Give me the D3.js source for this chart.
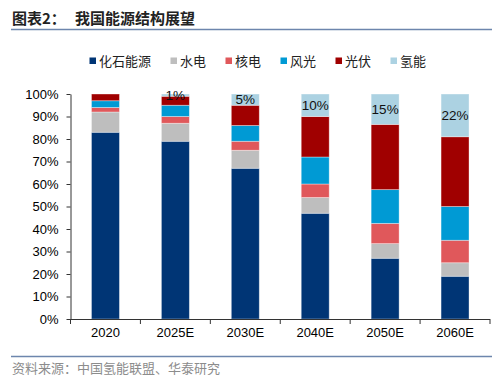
<!DOCTYPE html>
<html>
<head>
<meta charset="utf-8">
<script src="https://cdn.jsdelivr.net/npm/d3@7"></script>
<style>
  body { margin: 0; background: #fff; }
  svg text { font-family: "Liberation Sans", Arial, sans-serif; }
  .cjk { font-family: "Noto Sans CJK SC", sans-serif; }
</style>
</head>
<body>
<div id="chart"></div>
<script>
// data (percent of total)
const years = ['2020', '2025E', '2030E', '2040E', '2050E', '2060E'];
const fossil   = [83, 79, 67, 47, 27, 19];
const hydro    = [9, 8, 8, 7, 6.5, 6];
const nuclear  = [2, 3, 4, 6, 9, 10];
const wind     = [3, 5, 7, 12, 15, 15];
const solar    = [3, 4, 9, 18, 29, 31];
const hydrogen = [0, 1, 5, 10, 13.5, 19];
const h2Labels = ['', '1%', '5%', '10%', '15%', '22%'];
const seriesNames = ['化石能源', '水电', '核电', '风光', '光伏', '氢能'];
const yTicks = [0, 10, 20, 30, 40, 50, 60, 70, 80, 90, 100];

const colors = ['#003575', '#bebebe', '#e0585b', '#009ad4', '#a00000', '#acd2e2'];
const seriesValues = [fossil, hydro, nuclear, wind, solar, hydrogen];

const width = 504, height = 386;
const svg = d3.select('#chart').append('svg')
  .attr('width', width)
  .attr('height', height);

// title + rules
svg.append('text')
  .attr('class', 'cjk')
  .attr('x', 12).attr('y', 24)
  .attr('font-size', 15).attr('font-weight', 'bold')
  .attr('fill', '#222')
  .text('图表2：');
svg.append('text')
  .attr('class', 'cjk')
  .attr('x', 75).attr('y', 24)
  .attr('font-size', 15).attr('font-weight', 'bold')
  .attr('fill', '#222')
  .text('我国能源结构展望');
svg.append('line')
  .attr('x1', 11).attr('x2', 492).attr('y1', 29.5).attr('y2', 29.5)
  .attr('stroke', '#6d86ad').attr('stroke-width', 1.5);
svg.append('line')
  .attr('x1', 11).attr('x2', 492).attr('y1', 356.5).attr('y2', 356.5)
  .attr('stroke', '#6d86ad').attr('stroke-width', 1.5);
svg.append('text')
  .attr('class', 'cjk')
  .attr('x', 12).attr('y', 373)
  .attr('font-size', 13)
  .attr('fill', '#8c8c8c')
  .text('资料来源：中国氢能联盟、华泰研究');

// legend
let lx = 89.5;
const legend = svg.append('g');
seriesNames.forEach((name, i) => {
  legend.append('rect')
    .attr('x', lx).attr('y', 57.5)
    .attr('width', 6.5).attr('height', 6.5)
    .attr('fill', colors[i]);
  legend.append('text')
    .attr('class', 'cjk')
    .attr('x', lx + 9.5).attr('y', 65.5)
    .attr('font-size', 13)
    .attr('fill', '#222')
    .text(name);
  lx += 9.5 + name.length * 13 + 19.5;
});

// scales
const x = d3.scaleBand()
  .domain(years)
  .range([70.5, 490])
  .paddingInner(0.6)
  .paddingOuter(0.3);
const y = d3.scaleLinear().domain([0, 100]).range([319, 94]);

// stacked bars
const table = years.map((yr, i) => {
  const row = { year: yr };
  seriesNames.forEach((n, k) => row[n] = seriesValues[k][i]);
  return row;
});
const stacked = d3.stack().keys(seriesNames)(table);

svg.append('g')
  .selectAll('g')
  .data(stacked)
  .join('g')
    .attr('fill', (d, i) => colors[i])
  .selectAll('rect')
  .data(d => d.filter(s => s[1] - s[0] > 0))
  .join('rect')
    .attr('x', d => x(d.data.year))
    .attr('width', x.bandwidth())
    .attr('y', d => y(d[1]))
    .attr('height', d => y(d[0]) - y(d[1]))
    .attr('stroke', 'rgba(255,255,255,0.45)')
    .attr('stroke-width', 0.8);

// hydrogen labels
const h2 = stacked[5];
svg.append('g')
  .selectAll('text')
  .data(h2)
  .join('text')
    .attr('x', d => x(d.data.year) + x.bandwidth() / 2)
    .attr('y', d => (y(d[0]) + y(d[1])) / 2)
    .attr('dy', '0.36em')
    .attr('text-anchor', 'middle')
    .attr('font-size', 13.5)
    .attr('fill', '#111')
    .text((d, i) => h2Labels[i]);

// y axis
const yAxis = svg.append('g')
  .attr('transform', 'translate(70.5,0)')
  .call(d3.axisLeft(y).tickValues(yTicks).tickSize(4).tickSizeOuter(0)
    .tickPadding(8).tickFormat(d => d + '%'));
yAxis.selectAll('text').attr('font-size', 13).attr('fill', '#000')
  .style('font-family', '"Liberation Sans", Arial, sans-serif');
yAxis.selectAll('line, path').attr('stroke', '#333');

// x axis: labels at centres, ticks at category boundaries
const xAxis = svg.append('g')
  .attr('transform', 'translate(0,319)')
  .call(d3.axisBottom(x).tickSize(0).tickPadding(9));
xAxis.select('.domain').remove();
xAxis.selectAll('text').attr('font-size', 13).attr('fill', '#000')
  .style('font-family', '"Liberation Sans", Arial, sans-serif');

const step = x.step();
const x0 = x.range()[0];
svg.append('line')
  .attr('x1', x0).attr('x2', x.range()[1])
  .attr('y1', 319.5).attr('y2', 319.5)
  .attr('stroke', '#333');
svg.append('g')
  .selectAll('line')
  .data(d3.range(years.length + 1))
  .join('line')
    .attr('x1', i => x0 + i * step).attr('x2', i => x0 + i * step)
    .attr('y1', 319).attr('y2', 324)
    .attr('stroke', '#333');
</script>
</body>
</html>
